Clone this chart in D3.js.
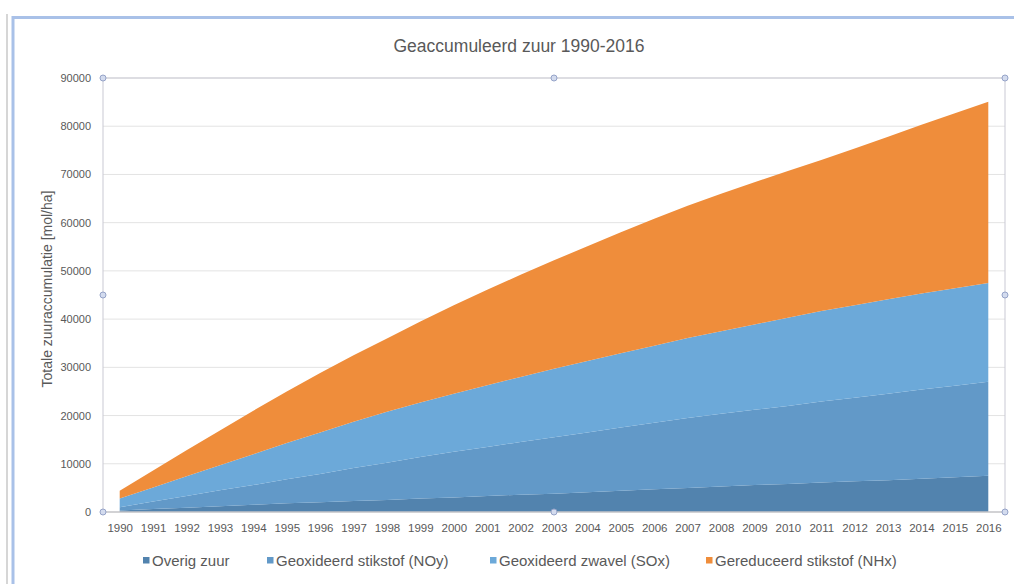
<!DOCTYPE html>
<html>
<head>
<meta charset="utf-8">
<script src="https://cdn.jsdelivr.net/npm/d3@7"></script>
<style>
  html, body { margin: 0; padding: 0; background: #ffffff; }
  svg { display: block; font-family: "Liberation Sans", Arial, sans-serif; }
</style>
</head>
<body>
<svg id="chart" width="1014" height="584"></svg>
<script>
// ---- data ----
const years = [1990,1991,1992,1993,1994,1995,1996,1997,1998,1999,2000,2001,2002,2003,2004,2005,2006,2007,2008,2009,2010,2011,2012,2013,2014,2015,2016];
const overigZuur = [300,600,900,1200,1500,1800,2000,2300,2500,2800,3000,3300,3600,3800,4100,4400,4700,5000,5300,5600,5800,6100,6400,6600,6900,7200,7500];
const noy = [700,1600,2400,3300,4100,5000,5900,6800,7700,8600,9500,10200,10900,11700,12400,13100,13800,14500,15100,15600,16200,16800,17300,17900,18500,19000,19500];
const sox = [1800,2900,4100,5200,6400,7500,8600,9600,10600,11300,12000,12800,13500,14200,14800,15400,16000,16600,17100,17700,18300,18800,19200,19600,19900,20200,20500];
const nhx = [1600,3500,5400,7200,9000,10700,12300,13800,15200,16800,18400,19800,21200,22500,23800,25100,26300,27400,28500,29500,30400,31300,32500,33700,35000,36300,37600];
const seriesNames = ["Overig zuur","Geoxideerd stikstof (NOy)","Geoxideerd zwavel (SOx)","Gereduceerd stikstof (NHx)"];
const seriesKeys = ["overig","noy","sox","nhx"];
const seriesColors = ["#5283ae","#6299c8","#6ca9d9","#ef8d3b"];
const yTicks = [0,10000,20000,30000,40000,50000,60000,70000,80000,90000];
const chartTitle = "Geaccumuleerd zuur 1990-2016";
const yTitle = "Totale zuuraccumulatie [mol/ha]";

const table = years.map((y,i) => ({year: y, overig: overigZuur[i], noy: noy[i], sox: sox[i], nhx: nhx[i]}));

// ---- layout ----
const svg = d3.select("#chart");
const plot = {left: 103, right: 1005, top: 78, bottom: 512};
const textColor = "#595959";

// Excel-like frame
svg.append("line").attr("x1",7).attr("x2",7).attr("y1",14).attr("y2",584).attr("stroke","#c8c8c8").attr("stroke-width",1.5);
svg.append("line").attr("x1",13).attr("x2",1014).attr("y1",17.5).attr("y2",17.5).attr("stroke","#a9c1e8").attr("stroke-width",3);
svg.append("line").attr("x1",13).attr("x2",13).attr("y1",16).attr("y2",584).attr("stroke","#a9c1e8").attr("stroke-width",3);

const x = d3.scalePoint().domain(years).range([plot.left, plot.right]).padding(0.5);
const y = d3.scaleLinear().domain([0,90000]).range([plot.bottom, plot.top]);

// gridlines
svg.append("g").selectAll("line").data(yTicks.filter(t => t > 0)).join("line")
  .attr("x1", plot.left).attr("x2", plot.right)
  .attr("y1", d => y(d)).attr("y2", d => y(d))
  .attr("stroke", "#e3e3e3").attr("stroke-width", 1);

// stacked areas
const stack = d3.stack().keys(seriesKeys);
const layers = stack(table);
const area = d3.area()
  .x(d => x(d.data.year))
  .y0(d => y(d[0]))
  .y1(d => y(d[1]));
svg.append("g").selectAll("path").data(layers).join("path")
  .attr("d", area)
  .attr("fill", (d,i) => seriesColors[i]);

// plot area border (selected)
svg.append("rect").attr("x", plot.left).attr("y", plot.top)
  .attr("width", plot.right - plot.left).attr("height", plot.bottom - plot.top)
  .attr("fill","none").attr("stroke","#c9c9d4").attr("stroke-width",1);
svg.append("line").attr("x1",plot.left).attr("x2",plot.right).attr("y1",plot.bottom).attr("y2",plot.bottom)
  .attr("stroke","#c0c0c0").attr("stroke-width",1);

// y axis
const yAxis = d3.axisLeft(y).tickValues(yTicks).tickSize(0).tickPadding(12).tickFormat(d3.format("d"));
const gy = svg.append("g").attr("transform", `translate(${plot.left},0)`).call(yAxis);
gy.select(".domain").remove();
gy.selectAll("text").attr("fill", textColor).attr("font-size", "11px")
  .attr("font-family", "Liberation Sans, Arial, sans-serif");

// x axis
const xAxis = d3.axisBottom(x).tickSize(0).tickPadding(12);
const gx = svg.append("g").attr("transform", `translate(0,${plot.bottom})`).call(xAxis);
gx.select(".domain").remove();
gx.selectAll("text").attr("fill", textColor).attr("font-size", "11.5px")
  .attr("font-family", "Liberation Sans, Arial, sans-serif");

// selection handles
const handles = [[plot.left,plot.top],[(plot.left+plot.right)/2,plot.top],[plot.right,plot.top],
  [plot.left,(plot.top+plot.bottom)/2],[plot.right,(plot.top+plot.bottom)/2],
  [plot.left,plot.bottom],[(plot.left+plot.right)/2,plot.bottom],[plot.right,plot.bottom]];
svg.append("g").selectAll("circle").data(handles).join("circle")
  .attr("cx", d => d[0]).attr("cy", d => d[1]).attr("r", 3)
  .attr("fill", "#d3dbee").attr("stroke", "#95a3c8").attr("stroke-width", 1);

// title
svg.append("text").attr("x", 519).attr("y", 52).attr("text-anchor","middle")
  .attr("fill", textColor).attr("font-size","17.5px").text(chartTitle);

// y title
svg.append("text").attr("transform","translate(52,289) rotate(-90)").attr("text-anchor","middle")
  .attr("fill", textColor).attr("font-size","14px").text(yTitle);

// legend
const legendX = [143, 267, 490, 706];
const lg = svg.append("g").selectAll("g").data(seriesNames).join("g")
  .attr("transform", (d,i) => `translate(${legendX[i]},557)`);
lg.append("rect").attr("width",6.5).attr("height",6.5).attr("y",0).attr("fill",(d,i) => seriesColors[i]);
lg.append("text").attr("x",9).attr("y",8.5).attr("fill",textColor).attr("font-size","15px").text(d => d);
</script>
</body>
</html>
